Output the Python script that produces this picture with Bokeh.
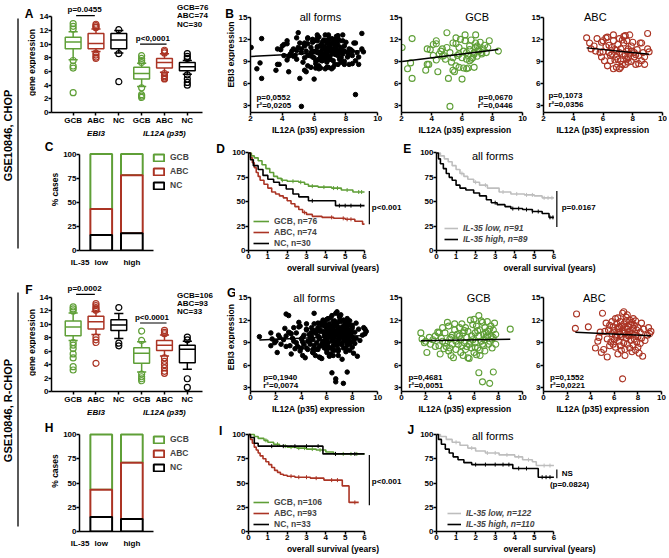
import numpy as np
from bokeh.plotting import figure
from bokeh.layouts import row, column
from bokeh.models import Range1d, FixedTicker, LinearAxis, Legend, LegendItem, ColumnDataSource
from bokeh.core.properties import value
from bokeh.embed import file_html
from bokeh.resources import INLINE

FONT = "Liberation Sans"
GREEN = "#5f9f37"
RED = "#ab3424"
BLK = "#000000"
GRAY = "#bebebe"

# ------------------------------------------------------------------ data
box_groups = ["GCB", "ABC", "NC", "GCB", "ABC", "NC"]
gene_labels = ["EBI3", "IL12A (p35)"]
subtype_labels = ["GCB", "ABC", "NC"]
il35_labels = ["IL-35", "low", "high"]
panel_letters = ["A", "B", "C", "D", "E", "F", "G", "H", "I", "J"]
cohort_labels = ["GSE10846, CHOP", "GSE10846, R-CHOP"]

# A: CHOP box plots (EBI3 x3, IL12A x3)
a_q1 = [9.3, 9.3, 9.3, 4.9, 6.5, 6.1]
a_med = [10.3, 10.1, 10.6, 5.7, 7.3, 6.7]
a_q3 = [11.0, 11.55, 11.55, 6.6, 7.9, 7.3]
a_lo = [7.7, 8.9, 8.7, 3.8, 5.9, 5.6]
a_hi = [11.8, 12.2, 12.0, 7.2, 8.6, 7.6]
a_out = [[13.0, 12.6, 12.2, 7.6, 6.8, 6.5, 2.9],
         [12.9, 12.7, 12.5, 12.4, 8.7, 8.4, 8.1, 7.9],
         [12.1, 8.6, 4.5],
         [8.3, 7.9, 7.6, 7.3, 3.6, 2.6, 2.4, 2.2],
         [9.1, 8.9, 8.7, 5.7, 5.4, 5.2, 5.0, 4.9],
         [8.6, 8.2, 7.9, 5.5, 4.9, 4.4, 4.0]]
a_counts = ["GCB=76", "ABC=74", "NC=30"]

# F: R-CHOP box plots
f_q1 = [8.3, 9.3, 9.1, 4.2, 6.1, 4.3]
f_med = [9.6, 10.4, 9.9, 5.7, 6.9, 6.3]
f_q3 = [10.5, 11.2, 10.7, 6.5, 7.6, 6.9]
f_lo = [7.6, 8.5, 7.9, 2.9, 5.3, 3.3]
f_hi = [11.7, 11.9, 11.6, 7.4, 8.4, 7.5]
f_out = [[12.6, 12.3, 12.0, 7.3, 6.9, 6.4, 5.6, 5.0, 3.7, 3.2],
         [13.1, 12.8, 12.5, 12.3, 12.1, 8.1, 7.7, 7.3, 4.2],
         [12.5, 7.2, 6.8],
         [9.0, 7.6, 2.6, 2.2, 1.9, 1.6],
         [9.1, 8.8, 8.6, 5.0, 4.5, 4.0, 3.5, 3.0, 2.7],
         [8.1, 7.7, 1.9, 0.6]]
f_counts = ["GCB=106", "ABC=93", "NC=33"]

# B: CHOP scatter (IL12A, EBI3)
chop_gcb = [(2.04, 10.9), (2.7, 12.1), (2.4, 8.0), (2.6, 8.8), (2.7, 6.7), (3.6, 7.8), (3.7, 8.6), (3.8, 8.6),
            (3.9, 10.6), (4.1, 11.3), (4.3, 11.8), (4.3, 11.4), (4.4, 7.6), (4.6, 10.4), (4.7, 10.7), (4.7, 9.7),
            (4.8, 9.8), (4.9, 9.3), (5.0, 12.9), (5.0, 10.9), (5.1, 6.7), (5.2, 2.9), (5.2, 10.2), (5.3, 8.9),
            (5.4, 7.8), (5.5, 7.6), (5.4, 11.5), (5.6, 11.4), (5.6, 12.2), (5.7, 9.8), (5.8, 10.9), (5.8, 10.0),
            (5.9, 12.0), (6.0, 6.6), (6.0, 9.5), (6.1, 10.4), (6.2, 12.6), (6.2, 11.8), (6.3, 10.2), (6.3, 8.0),
            (6.4, 8.1), (6.4, 9.8), (6.5, 11.1), (6.5, 10.6), (6.6, 11.9), (6.6, 9.3), (6.7, 9.5), (6.8, 10.2),
            (6.8, 10.0), (6.9, 11.5), (6.9, 10.9), (7.0, 9.7), (7.0, 11.1), (7.1, 10.4), (7.1, 10.6), (7.2, 11.6),
            (7.3, 10.0), (7.3, 10.2), (7.4, 10.7), (7.5, 11.2), (7.6, 10.2), (7.7, 10.9), (7.8, 11.8), (6.3, 9.3),
            (5.8, 8.2), (6.1, 8.1), (4.5, 10.0), (4.3, 9.2), (3.7, 10.7), (4.1, 9.8), (5.6, 8.4), (5.4, 9.5),
            (6.8, 8.2), (8.4, 10.4), (6.9, 12.6), (6.5, 9.1)]
chop_abc = [(4.9, 12.2), (5.1, 11.5), (5.2, 10.7), (5.4, 11.1), (5.6, 12.1), (5.9, 11.6), (6.0, 10.3), (6.1, 9.1),
            (6.2, 12.2), (6.3, 12.3), (6.4, 11.2), (6.4, 10.2), (6.5, 9.8), (6.5, 9.1), (6.6, 10.9), (6.7, 11.8),
            (6.7, 12.6), (6.8, 10.6), (6.9, 9.6), (6.9, 8.2), (7.0, 11.3), (7.1, 10.2), (7.1, 12.1), (7.2, 9.1),
            (7.2, 10.7), (7.3, 10.0), (7.3, 8.6), (7.4, 11.5), (7.5, 12.5), (7.5, 9.8), (7.6, 10.4), (7.6, 11.8),
            (7.6, 9.3), (7.7, 8.9), (7.7, 10.7), (7.8, 12.6), (7.8, 10.0), (7.9, 11.1), (7.9, 9.0), (8.1, 9.6),
            (8.1, 10.2), (8.2, 8.6), (8.3, 10.6), (8.4, 9.8), (8.5, 11.5), (8.6, 9.1), (8.7, 10.2), (8.8, 8.6),
            (9.0, 10.7), (9.0, 12.8), (9.1, 10.3), (8.8, 9.6), (8.6, 11.5), (6.3, 8.4), (6.7, 8.0), (7.1, 8.0),
            (5.9, 9.6), (5.8, 10.2), (7.5, 8.6), (7.4, 12.4), (7.0, 9.3), (6.6, 10.0), (6.2, 11.0), (8.0, 11.6),
            (7.3, 11.9), (6.9, 10.5), (7.7, 9.5), (8.2, 9.9), (5.5, 10.4), (6.0, 11.8), (7.2, 8.2), (8.4, 8.7),
            (7.9, 10.4), (6.8, 9.2)]
chop_nc = [(6.7, 10.6), (6.5, 11.6), (7.0, 9.3), (6.2, 10.9), (7.3, 11.2), (5.6, 9.8), (6.9, 12.0), (6.1, 8.7),
           (7.6, 10.3), (6.4, 9.5), (8.6, 4.5), (7.1, 11.5), (5.9, 10.4), (6.8, 8.9), (6.6, 11.0), (7.4, 9.9),
           (6.0, 11.8), (8.2, 10.7), (6.3, 9.2), (7.2, 10.1), (5.4, 11.3), (4.9, 10.5), (4.4, 9.7), (4.0, 11.1),
           (7.5, 12.1), (6.7, 9.6), (6.2, 10.2), (7.0, 10.8), (6.8, 11.4), (7.9, 8.6)]

# G: R-CHOP scatter
rchop_gcb = [(1.6, 10.3), (1.7, 9.5), (1.9, 9.0), (2.1, 7.7), (2.3, 9.7), (2.4, 8.8), (2.6, 9.4), (2.8, 9.9),
             (3.1, 10.3), (3.1, 8.6), (3.2, 7.5), (3.4, 11.0), (3.4, 9.2), (3.6, 9.0), (3.6, 10.3), (3.8, 11.7),
             (3.9, 7.9), (3.9, 11.2), (4.0, 8.3), (4.1, 7.3), (4.1, 9.7), (4.2, 8.8), (4.3, 7.0), (4.4, 10.7),
             (4.5, 9.2), (4.5, 8.1), (4.6, 10.1), (4.7, 8.8), (4.8, 11.0), (4.9, 7.7), (4.9, 9.4), (5.0, 8.6),
             (5.1, 10.3), (5.1, 7.3), (5.2, 9.0), (5.3, 11.0), (5.3, 8.1), (5.4, 9.7), (5.5, 7.0), (5.5, 10.5),
             (5.6, 8.8), (5.7, 12.0), (5.8, 9.9), (5.8, 8.3), (5.9, 11.4), (5.9, 9.4), (6.0, 12.1), (6.0, 7.7),
             (6.1, 10.3), (6.1, 9.0), (6.2, 11.2), (6.3, 8.3), (6.4, 9.9), (6.4, 5.0), (6.4, 12.6), (6.5, 7.3),
             (6.5, 10.7), (6.6, 9.2), (6.7, 3.8), (6.7, 11.7), (6.8, 8.6), (6.8, 10.1), (6.9, 11.0), (6.9, 7.9),
             (7.0, 9.7), (7.1, 11.8), (7.2, 8.8), (7.2, 10.5), (7.3, 3.6), (7.3, 9.2), (7.4, 11.2), (7.4, 9.9),
             (7.5, 8.3), (7.6, 5.1), (7.6, 10.7), (7.6, 9.7), (7.7, 11.6), (7.8, 8.8), (9.0, 10.8), (3.0, 10.4),
             (3.7, 8.5), (4.4, 11.5), (5.0, 11.5), (5.6, 6.9), (6.2, 7.4), (6.6, 11.9), (7.0, 10.4), (7.5, 9.5),
             (4.8, 9.9), (5.2, 10.6), (6.3, 10.6), (6.9, 9.4), (3.5, 8.2), (4.2, 10.0), (5.7, 9.2), (6.1, 8.4),
             (7.1, 9.9), (4.0, 9.5), (2.8, 8.5), (5.4, 8.5), (6.7, 8.8), (7.3, 10.8), (3.3, 9.6), (6.5, 8.0),
             (7.8, 10.1), (2.0, 9.2)]
rchop_abc = [(2.8, 12.8), (2.7, 10.9), (3.8, 11.1), (4.4, 8.3), (4.6, 9.2), (4.7, 9.7), (4.8, 10.4), (4.9, 7.7),
             (5.0, 12.9), (5.1, 8.1), (5.2, 10.5), (5.4, 7.1), (5.4, 9.5), (5.5, 10.7), (5.6, 11.3), (5.7, 9.1),
             (5.8, 11.8), (5.8, 10.2), (5.9, 8.8), (5.9, 11.1), (6.0, 10.6), (6.0, 9.4), (6.1, 12.2), (6.1, 10.0),
             (6.1, 8.4), (6.2, 11.5), (6.2, 9.7), (6.3, 10.9), (6.3, 12.3), (6.4, 9.2), (6.4, 10.4), (6.5, 11.8),
             (6.5, 8.6), (6.5, 10.1), (6.6, 11.2), (6.6, 9.8), (6.7, 12.9), (6.7, 10.6), (6.7, 4.2), (6.8, 13.1),
             (6.8, 9.0), (6.8, 11.5), (6.9, 10.3), (6.9, 8.1), (7.0, 11.9), (7.0, 9.6), (7.0, 12.4), (7.1, 10.8),
             (7.1, 8.8), (7.2, 11.1), (7.2, 9.9), (7.3, 10.5), (7.3, 12.0), (7.3, 8.3), (7.4, 11.4), (7.4, 9.3),
             (7.5, 10.2), (7.5, 11.7), (7.6, 8.7), (7.6, 10.9), (7.7, 9.5), (7.7, 11.3), (7.8, 10.0), (7.8, 8.0),
             (7.9, 10.7), (7.9, 9.1), (8.0, 11.0), (8.0, 9.8), (8.1, 7.6), (8.2, 10.4), (8.2, 8.9), (8.3, 9.6),
             (8.4, 7.2), (8.5, 10.8), (8.6, 9.3), (8.8, 10.0), (8.9, 11.0), (9.0, 10.2), (9.1, 10.5), (6.3, 7.5),
             (6.9, 7.3), (7.5, 7.8), (8.0, 8.4), (5.3, 11.6), (5.6, 8.6), (6.6, 8.0), (7.1, 12.7), (7.6, 12.2),
             (8.3, 11.6), (6.4, 11.1), (7.8, 11.9), (6.9, 11.0), (7.2, 10.1)]
rchop_nc = [(0.7, 9.8), (1.6, 8.6), (3.2, 10.2), (4.1, 9.1), (4.4, 10.8), (4.9, 8.1), (5.3, 9.9), (5.8, 10.5),
            (6.0, 9.3), (6.1, 11.2), (6.2, 7.2), (6.3, 10.0), (6.4, 10.8), (6.5, 9.6), (6.6, 11.5), (6.7, 8.8),
            (6.8, 10.4), (6.9, 9.2), (7.0, 12.5), (7.1, 10.1), (7.2, 6.8), (7.3, 9.7), (7.5, 11.0), (7.6, 9.0),
            (7.7, 10.6), (7.9, 10.3), (8.1, 9.4), (5.5, 11.6), (3.0, 12.6), (2.2, 10.0), (6.0, 8.0), (5.0, 10.6),
            (8.0, 11.3)]
b_stats = {"all": ("p=0,0552", "r\u00b2=0,0205"), "gcb": ("p=0,0670", "r\u00b2=0,0446"),
           "abc": ("p=0,1073", "r\u00b2=0,0356")}
g_stats = {"all": ("p=0,1940", "r\u00b2=0,0074"), "gcb": ("p=0,4681", "r\u00b2=0,0051"),
           "abc": ("p=0,1552", "r\u00b2=0,0221")}

# C / H: % cases by IL-35 level (segments: NC, ABC, GCB)
c_nc = [16, 18]
c_abc = [27, 60]
c_gcb = [57, 22]
h_nc = [15, 13]
h_abc = [28, 58]
h_gcb = [57, 29]

# D: CHOP survival by subtype
d_gcb_t = [0, 0.15, 0.3, 0.5, 0.7, 0.9, 1.1, 1.3, 1.5, 1.7, 2.0, 2.6, 2.9, 3.1, 3.6, 4.3, 4.8, 5.4, 6.0]
d_gcb_s = [100, 97, 95, 92, 88, 84, 80, 76, 74, 72, 71, 70, 68, 66, 65, 64, 62, 60, 60]
d_abc_t = [0, 0.1, 0.2, 0.3, 0.4, 0.5, 0.6, 0.8, 1.0, 1.2, 1.4, 1.6, 1.8, 2.0, 2.2, 2.4, 2.6, 2.8, 3.0, 3.3,
           3.8, 4.4, 5.0, 5.5, 5.9, 6.0]
d_abc_s = [100, 95, 90, 85, 80, 76, 72, 68, 64, 60, 58, 56, 54, 51, 48, 45, 42, 39, 37, 35, 34, 33, 32, 30, 27, 27]
d_nc_t = [0, 0.1, 0.25, 0.5, 0.75, 1.0, 1.3, 1.6, 1.95, 2.3, 2.6, 3.1, 4.5, 6.0]
d_nc_s = [100, 93, 87, 83, 77, 73, 70, 67, 63, 58, 55, 51, 46, 46]
d_gcb_c = [1.75, 2.3, 2.7, 3.3, 3.9, 4.4, 4.6, 5.1, 5.7, 5.85]
d_abc_c = [2.9, 4.3, 4.9, 5.1, 5.3]
d_nc_c = [3.3, 4.7, 5.0, 5.3, 5.8]
d_labels = ["GCB, n=76", "ABC, n=74", "NC, n=30"]

# E: CHOP survival by IL-35
e_low_t = [0, 0.2, 0.4, 0.6, 0.8, 1.0, 1.2, 1.4, 1.6, 1.9, 2.2, 2.6, 3.2, 3.8, 4.5, 5.0, 5.4, 6.0]
e_low_s = [100, 97, 94, 91, 87, 83, 79, 76, 73, 70, 67, 64, 60, 58, 57, 56, 54, 54]
e_high_t = [0, 0.1, 0.2, 0.35, 0.5, 0.65, 0.8, 1.0, 1.2, 1.5, 1.9, 2.2, 2.55, 2.8, 3.1, 3.5, 3.8, 4.4, 4.9,
            5.4, 5.75, 6.0]
e_high_s = [100, 94, 89, 84, 79, 75, 72, 67, 64, 62, 59, 56, 52, 49, 47, 45, 43, 42, 40, 38, 34, 34]
e_low_c = [1.3, 2.0, 2.5, 3.4, 4.1, 4.6, 4.9, 5.5, 5.7, 5.9]
e_high_c = [3.0, 3.9, 4.2, 4.6, 4.9, 5.2, 5.8, 5.95]
e_labels = ["IL-35 low, n=91", "IL-35 high, n=89"]

# I: R-CHOP survival by subtype
i_gcb_t = [0, 0.3, 0.5, 0.8, 1.0, 1.3, 1.6, 2.0, 2.5, 3.0, 3.5, 4.0, 4.4, 6.0]
i_gcb_s = [100, 98, 96, 94, 92, 90, 88, 87, 86, 85, 84, 82, 80, 80]
i_abc_t = [0, 0.1, 0.2, 0.3, 0.4, 0.5, 0.6, 0.75, 0.9, 1.05, 1.2, 1.35, 1.5, 1.65, 1.8, 2.0, 2.4, 3.2, 3.9,
           4.85, 5.2, 5.7]
i_abc_s = [100, 95, 91, 87, 84, 81, 78, 75, 72, 69, 66, 63, 61, 59, 58, 57, 56, 55, 53, 47, 30, 30]
i_nc_t = [0, 0.1, 0.3, 0.5, 3.85, 6.0]
i_nc_s = [100, 97, 91, 88, 80, 80]
i_gcb_c = [0.9, 1.5, 1.9, 2.2, 2.6, 2.9, 3.3, 3.7, 4.5, 4.9, 5.3, 5.6]
i_abc_c = [2.2, 2.6, 3.0, 3.5, 4.3, 4.6, 5.5]
i_nc_c = [1.2, 1.8, 2.4, 3.0, 3.6, 4.5, 5.5]
i_labels = ["GCB, n=106", "ABC, n=93", "NC, n=33"]

# J: R-CHOP survival by IL-35
j_low_t = [0, 0.2, 0.5, 0.8, 1.2, 1.6, 2.0, 2.5, 3.2, 4.0, 4.4, 4.9, 5.1, 6.0]
j_low_s = [100, 98, 95, 92, 89, 86, 83, 81, 79, 77, 74, 72, 68, 68]
j_high_t = [0, 0.1, 0.25, 0.45, 0.65, 0.85, 1.1, 1.4, 1.8, 3.9, 5.2, 6.0]
j_high_s = [100, 95, 90, 85, 81, 77, 74, 71, 69, 65, 56, 56]
j_low_c = [1.0, 1.8, 2.6, 3.0, 3.6, 4.2, 4.7, 5.5, 5.8]
j_high_c = [2.0, 2.5, 3.0, 3.4, 3.7, 4.2, 4.6, 5.4, 5.6, 5.8]
j_labels = ["IL-35 low, n=122", "IL-35 high, n=110"]


# ------------------------------------------------------------------ helpers
def style_axis(ax, size="8px"):
    ax.axis_line_width = 1.5
    ax.axis_line_color = "black"
    ax.major_tick_line_width = 1.5
    ax.major_tick_line_color = "black"
    ax.major_tick_out = 3
    ax.major_tick_in = 0
    ax.minor_tick_line_color = None
    ax.major_label_text_font = FONT
    ax.major_label_text_font_size = size
    ax.major_label_text_font_style = "bold"
    ax.major_label_text_color = "black"
    ax.major_label_standoff = 0
    ax.axis_label_text_font = FONT
    ax.axis_label_text_font_size = "8.5px"
    ax.axis_label_text_font_style = "bold"
    ax.axis_label_text_color = "black"
    ax.axis_label_standoff = 1


def new_fig(w, h, left, right, top, bottom, xr, yr, axes=True):
    kw = {}
    if not axes:
        kw = dict(x_axis_type=None, y_axis_type=None)
    p = figure(width=w, height=h, x_range=Range1d(*xr), y_range=Range1d(*yr),
               output_backend="svg", toolbar_location=None,
               min_border_left=left, min_border_right=right,
               min_border_top=top, min_border_bottom=bottom, **kw)
    p.outline_line_color = None
    p.grid.visible = False
    if axes:
        for ax in list(p.xaxis) + list(p.yaxis):
            style_axis(ax)
    return p


def txt(p, x, y, s, size="8px", style="bold", align="left", color="black", angle=0.0):
    p.text(x=[x], y=[y], text=[s], text_font=value(FONT), text_font_size=size,
           text_font_style=style, text_align=align, text_baseline="middle",
           text_color=color, angle=angle)


def letter(p, s, x, y):
    txt(p, x, y, s, size="12px", align="center")


def box_panel(w, h, yr, q1, med, q3, lo, hi, outs, counts, count_ys, pvals):
    p = new_fig(w, h, 12, 0, 0, 26, (0.052, 8.11), yr)
    pos = np.arange(1, len(box_groups) + 1, dtype=float)
    colors = [GREEN, RED, BLK] * 2
    bw, cw = 0.69, 0.4
    src = ColumnDataSource(dict(x=pos, q1=q1, med=med, q3=q3, lo=lo, hi=hi, c=colors,
                                xl=pos - bw / 2, xr=pos + bw / 2, cl=pos - cw / 2, cr=pos + cw / 2))
    p.segment(x0="x", y0="q3", x1="x", y1="hi", line_color="c", line_width=1.5, source=src)
    p.segment(x0="x", y0="lo", x1="x", y1="q1", line_color="c", line_width=1.5, source=src)
    p.segment(x0="cl", y0="hi", x1="cr", y1="hi", line_color="c", line_width=1.5, source=src)
    p.segment(x0="cl", y0="lo", x1="cr", y1="lo", line_color="c", line_width=1.5, source=src)
    p.vbar(x="x", width=bw, bottom="q1", top="q3", fill_color="white", line_color="c",
           line_width=1.5, source=src)
    p.segment(x0="xl", y0="med", x1="xr", y1="med", line_color="c", line_width=1.5, source=src)
    ox, oy, oc = [], [], []
    for i, vals in enumerate(outs):
        ox += [pos[i]] * len(vals)
        oy += vals
        oc += [colors[i]] * len(vals)
    p.scatter(ox, oy, marker="circle", size=6, fill_color=None, line_color=oc, line_width=1.2)
    p.yaxis.ticker = FixedTicker(ticks=list(range(0, 15, 2)))
    p.yaxis.bounds = (0, 14)
    p.xaxis.ticker = FixedTicker(ticks=list(pos))
    p.xaxis.major_label_overrides = {float(v): lab for v, lab in zip(pos, box_groups)}
    p.xaxis.bounds = (0.052, 6.65)
    gax = LinearAxis(ticker=FixedTicker(ticks=[2.0, 5.0]),
                     major_label_overrides={2.0: gene_labels[0], 5.0: gene_labels[1]})
    style_axis(gax)
    gax.axis_line_color = None
    gax.major_tick_line_color = None
    gax.major_tick_out = 0
    gax.major_label_standoff = 1
    gax.major_label_text_font_style = "bold italic"
    p.add_layout(gax, "below")
    for s, y in zip(counts, count_ys):
        txt(p, 5.55, y, s)
    for (x0, x1, tx, ty, ly, s) in pvals:
        txt(p, tx, ty, s, align="center")
        p.segment(x0=[x0], y0=[ly], x1=[x1], y1=[ly], line_color="black", line_width=1.2)
    return p


def scatter_panel(w, h, right, xr, yr, pts, color, filled, title, tx, stats, sx, sy, salign, xbounds):
    p = new_fig(w, h, 12, right, 0, 26, xr, yr)
    xs = np.array([a for a, b in pts])
    ys = np.array([b for a, b in pts])
    if filled:
        p.scatter(xs, ys, marker="circle", size=4.5, fill_color=color, line_color=color)
    else:
        p.scatter(xs, ys, marker="circle", size=6, fill_color=None, line_color=color, line_width=1.1)
    k, b = np.polyfit(xs, ys, 1)
    x0, x1 = xs.min(), xs.max()
    p.line([x0, x1], [k * x0 + b, k * x1 + b], line_color="black", line_width=1.5)
    p.yaxis.ticker = FixedTicker(ticks=[3, 6, 9, 12, 15])
    p.yaxis.bounds = (yr[0], 15)
    p.xaxis.ticker = FixedTicker(ticks=[0, 2, 4, 6, 8, 10])
    p.xaxis.bounds = xbounds
    p.xaxis.axis_label = "IL12A (p35) expression"
    txt(p, tx, 15, title, size="11px", style="normal", align="center")
    txt(p, sx, sy[0], stats[0], align=salign)
    txt(p, sx, sy[1], stats[1], align=salign)
    return p


def bar_panel(w, h, bottom, yr, nc, abc, gcb, legend_bottom):
    p = new_fig(w, h, 17, 0, 0, bottom, (0.29, 5.19), yr)
    xs = np.arange(1, 3, dtype=float)
    nc = np.array(nc, float)
    abc = np.array(abc, float)
    gcb = np.array(gcb, float)
    r_g = p.vbar(x=xs, width=0.71, bottom=nc + abc, top=nc + abc + gcb, fill_color="white",
                 line_color=GREEN, line_width=2)
    r_a = p.vbar(x=xs, width=0.71, bottom=nc, top=nc + abc, fill_color="white",
                 line_color=RED, line_width=2)
    r_n = p.vbar(x=xs, width=0.71, bottom=0, top=nc, fill_color="white",
                 line_color=BLK, line_width=2)
    p.yaxis.ticker = FixedTicker(ticks=[0, 25, 50, 75, 100])
    p.yaxis.bounds = (0, 100)
    ticks = [0.31, 1.0, 2.0]
    p.xaxis.ticker = FixedTicker(ticks=ticks)
    p.xaxis.major_label_overrides = {t: lab for t, lab in zip(ticks, il35_labels)}
    p.xaxis.major_tick_line_color = None
    p.xaxis.major_label_standoff = 4
    p.xaxis.bounds = (0.29, 2.71)
    leg = Legend(items=[LegendItem(label=subtype_labels[0], renderers=[r_g]),
                        LegendItem(label=subtype_labels[1], renderers=[r_a]),
                        LegendItem(label=subtype_labels[2], renderers=[r_n])],
                 location=(73, legend_bottom), label_text_font=FONT, label_text_font_size="8.5px",
                 label_text_font_style="bold", glyph_width=13, glyph_height=9, label_height=9,
                 spacing=4, padding=0, margin=0, border_line_color=None, background_fill_alpha=0,
                 label_standoff=5)
    p.add_layout(leg)
    return p


def step_at(t, s, c):
    t = np.asarray(t)
    s = np.asarray(s)
    idx = np.searchsorted(t, np.asarray(c), side="right") - 1
    return s[idx]


def km_panel(w, h, right, bottom, xr, yr, curves, labels, lstyle, lloc, glyph_w):
    p = new_fig(w, h, 16, right, 0, bottom, xr, yr)
    items = []
    for (t, s, c, col), lab in zip(curves, labels):
        r1 = p.step(t, s, mode="after", line_color=col, line_width=1.6)
        r2 = p.scatter(c, step_at(t, s, c), marker="dash", angle=np.pi / 2, size=4,
                       line_color=col, line_width=1)
        items.append(LegendItem(label=lab, renderers=[r1, r2]))
    p.yaxis.ticker = FixedTicker(ticks=[0, 25, 50, 75, 100])
    p.yaxis.bounds = (0, 100)
    p.xaxis.ticker = FixedTicker(ticks=list(range(0, 7)))
    p.xaxis.bounds = (0, 6)
    p.xaxis.axis_label = "overall survival (years)"
    leg = Legend(items=items, location=lloc, label_text_font=FONT, label_text_font_size="8.5px",
                 label_text_font_style=lstyle, glyph_width=glyph_w, glyph_height=8, label_height=8,
                 spacing=1, padding=0, margin=0, border_line_color=None, background_fill_alpha=0,
                 label_standoff=5)
    p.add_layout(leg)
    return p


def deco_fig(w, h, xr, yr):
    # decoration strip; its data space is the reference's pixel space (y downwards)
    return new_fig(w, h, 0, 0, 0, 0, xr, yr, axes=False)


# ------------------------------------------------------------------ geometry (px)
H1, H2, H3, H4 = 140, 139, 140, 137
W_STRIP = 36

# ------------------------------------------------------------------ row 1
pA = box_panel(199, H1, (0, 16.37), a_q1, a_med, a_q3, a_lo, a_hi, a_out,
               a_counts, [15.41, 14.22, 12.92],
               [(1.13, 1.95, 1.5, 15.08, 14.15, "p=0.0455"), (3.93, 5.09, 4.49, 10.78, 10.0, "p<0,0001")])
letter(pA, panel_letters[1], 7.85, 14.36)
txt(pA, 7.9, 8.47, "EBI3 expression", size="8.5px", angle=np.pi / 2, align="center")

chop_all = chop_gcb + chop_abc + chop_nc
pB1 = scatter_panel(151, H1, 0, (2, 10.55), (2.07, 17.27), chop_all, BLK, True, "all forms", 6.4,
                    b_stats["all"], 2.37, (4.16, 2.96), "left", (2, 10))
pB2 = scatter_panel(142, H1, 0, (2, 10.39), (2.07, 17.27), chop_gcb, GREEN, False, "GCB", 7.0,
                    b_stats["gcb"], 9.34, (4.16, 2.96), "right", (2, 10))
pB3 = scatter_panel(139, H1, 5, (2, 10), (2.07, 17.27), chop_abc, RED, False, "ABC", 5.48,
                    b_stats["abc"], 2.33, (4.38, 3.14), "left", (2, 10))

# ------------------------------------------------------------------ row 2
pCpre = deco_fig(24, H2, (36, 60), (279, 140))
letter(pCpre, panel_letters[2], 48.5, 148.5)
txt(pCpre, 54.5, 202, "% cases", size="8.5px", angle=np.pi / 2, align="center")

pC = bar_panel(169, H2, 29, (0, 114), c_nc, c_abc, c_gcb, 60)
letter(pC, panel_letters[3], 4.9, 105.7)

pD = km_panel(188, H2, 0, 29, (0, 8.74), (0, 112.8),
              [(d_gcb_t, d_gcb_s, d_gcb_c, GREEN), (d_abc_t, d_abc_s, d_abc_c, RED),
               (d_nc_t, d_nc_s, d_nc_c, BLK)], d_labels, "bold", (5, 2), 16)
pD.segment(x0=[6.25], y0=[27], x1=[6.25], y1=[61], line_color="black", line_width=1.2)
txt(pD, 6.38, 44, "p<0.001")
letter(pD, panel_letters[4], 8.21, 104.1)

pE = km_panel(250, H2, 5, 29, (0, 11.55), (0, 112.8),
              [(e_low_t, e_low_s, e_low_c, GRAY), (e_high_t, e_high_s, e_high_c, BLK)],
              e_labels, "bold italic", (8, 6), 14)
pE.segment(x0=[6.15], y0=[24], x1=[6.15], y1=[61], line_color="black", line_width=1.2)
txt(pE, 6.4, 44, "p=0.0167")
txt(pE, 2.87, 96.4, "all forms", size="11px", style="normal", align="center")

# ------------------------------------------------------------------ row 3
pF = box_panel(199, H3, (0, 16.68), f_q1, f_med, f_q3, f_lo, f_hi, f_out,
               f_counts, [14.27, 13.16, 11.93],
               [(1.13, 1.95, 1.5, 15.33, 14.45, "p=0.0002"), (3.93, 5.09, 4.45, 11.0, 10.2, "p<0.0001")])
letter(pF, panel_letters[6], 7.94, 14.7)
txt(pF, 7.9, 8.1, "EBI3 expression", size="8.5px", angle=np.pi / 2, align="center")

rchop_all = rchop_gcb + rchop_abc + rchop_nc
pG1 = scatter_panel(151, H3, 0, (0, 10.69), (2.52, 17.39), rchop_all, BLK, True, "all forms", 5.0,
                    g_stats["all"], 1.0, (4.35, 3.27), "left", (0, 10))
pG2 = scatter_panel(142, H3, 0, (0, 10.51), (2.52, 17.39), rchop_gcb, GREEN, False, "GCB", 6.39,
                    g_stats["gcb"], 0.57, (4.35, 3.27), "left", (0, 10))
pG3 = scatter_panel(139, H3, 5, (0, 10.08), (2.52, 17.39), rchop_abc, RED, False, "ABC", 4.3,
                    g_stats["abc"], 0.55, (4.35, 3.27), "left", (0, 10))

# ------------------------------------------------------------------ row 4
pHpre = deco_fig(24, H4, (36, 60), (556, 419))
letter(pHpre, panel_letters[7], 48.5, 430)
txt(pHpre, 54.5, 482, "% cases", size="8.5px", angle=np.pi / 2, align="center")

pH = bar_panel(169, H4, 25, (0, 115.5), h_nc, h_abc, h_gcb, 59)
letter(pH, panel_letters[8], 4.9, 104.1)

pI = km_panel(188, H4, 0, 25, (0, 8.74), (0, 115.5),
              [(i_gcb_t, i_gcb_s, i_gcb_c, GREEN), (i_abc_t, i_abc_s, i_abc_c, RED),
               (i_nc_t, i_nc_s, i_nc_c, BLK)], i_labels, "bold", (5, 2), 16)
pI.segment(x0=[6.25], y0=[27], x1=[6.25], y1=[79], line_color="black", line_width=1.2)
txt(pI, 6.38, 52, "p<0.001")
letter(pI, panel_letters[9], 8.39, 105.1)

pJ = km_panel(250, H4, 5, 25, (0, 11.55), (0, 115.5),
              [(j_low_t, j_low_s, j_low_c, GRAY), (j_high_t, j_high_s, j_high_c, BLK)],
              j_labels, "bold italic", (11, 2), 14)
pJ.segment(x0=[6.15], y0=[55], x1=[6.15], y1=[64], line_color="black", line_width=1.2)
txt(pJ, 6.4, 60, "NS")
txt(pJ, 6.8, 48, "(p=0.0824)", align="center")
txt(pJ, 2.87, 98, "all forms", size="11px", style="normal", align="center")

# ------------------------------------------------------------------ left strips
strip1 = deco_fig(W_STRIP, H1 + H2, (0, 36), (279, 0))
txt(strip1, 7.5, 135, cohort_labels[0], size="11px", angle=np.pi / 2, align="center")
strip1.segment(x0=[17.5], y0=[18], x1=[17.5], y1=[248], line_color="black", line_width=1.3)
letter(strip1, panel_letters[0], 28.5, 13.5)
txt(strip1, 31.5, 62, "gene expression", size="8.5px", angle=np.pi / 2, align="center")

strip2 = deco_fig(W_STRIP, H3 + H4, (0, 36), (556, 279))
txt(strip2, 7.5, 410, cohort_labels[1], size="11px", angle=np.pi / 2, align="center")
strip2.segment(x0=[17.5], y0=[292], x1=[17.5], y1=[526], line_color="black", line_width=1.3)
letter(strip2, panel_letters[5], 28.5, 289)
txt(strip2, 31.5, 342, "gene expression", size="8.5px", angle=np.pi / 2, align="center")

layout = row(column(strip1, strip2),
             column(row(pA, pB1, pB2, pB3),
                    row(pCpre, pC, pD, pE),
                    row(pF, pG1, pG2, pG3),
                    row(pHpre, pH, pI, pJ)))

open("out.html", "w").write(file_html(layout, INLINE))
